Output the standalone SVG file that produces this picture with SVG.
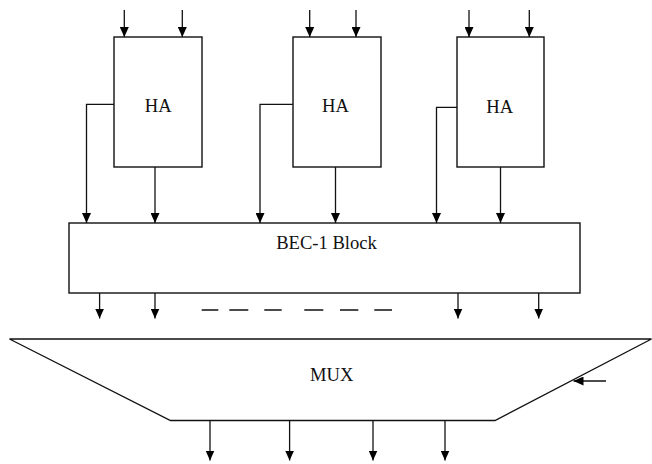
<svg xmlns="http://www.w3.org/2000/svg" width="652" height="464" viewBox="0 0 652 464">
<defs>
<marker id="ah" markerUnits="userSpaceOnUse" markerWidth="10" markerHeight="9" refX="10" refY="4.5" orient="auto">
<path d="M0,0 L10,4.5 L0,9 z" fill="#000"/>
</marker>
<style>
.box{fill:#fff;stroke:#111;stroke-width:1.4}
.w{fill:none;stroke:#111;stroke-width:1.3}
.a{fill:none;stroke:#111;stroke-width:1.3;marker-end:url(#ah)}
.d{fill:none;stroke:#333;stroke-width:1.4;stroke-dasharray:17 11}
.t{font-family:"Liberation Serif","Times New Roman",serif;font-size:18.6px;fill:#111;text-anchor:middle}
</style>
</defs>
<rect width="652" height="464" fill="#fff"/>
<g id="ha1">
<rect class="box" x="114" y="37" width="88" height="130"/>
<text class="t" x="158.3" y="112">HA</text>
</g>
<g id="ha2">
<rect class="box" x="293" y="37" width="88" height="130"/>
<text class="t" x="335.5" y="112">HA</text>
</g>
<g id="ha3">
<rect class="box" x="457" y="37" width="87" height="130"/>
<text class="t" x="499.7" y="113">HA</text>
</g>
<g id="bec">
<rect class="box" x="69" y="223" width="511" height="70"/>
<text class="t" x="326.5" y="249">BEC-1 Block</text>
</g>
<g id="mux">
<path class="box" d="M9.5,339 L651.5,339 L495,420.5 L170.5,420.5 Z"/>
<text class="t" x="331.7" y="380.7">MUX</text>
</g>
<g id="connectors">
<line class="a" x1="124.3" y1="10" x2="124.3" y2="37"/>
<line class="a" x1="182.3" y1="10" x2="182.3" y2="37"/>
<line class="a" x1="309.7" y1="10" x2="309.7" y2="37"/>
<line class="a" x1="356" y1="10" x2="356" y2="37"/>
<line class="a" x1="469" y1="10" x2="469" y2="37"/>
<line class="a" x1="529.3" y1="10" x2="529.3" y2="37"/>
<path class="a" d="M114,104.3 H86.5 V223"/>
<line class="a" x1="155" y1="167" x2="155" y2="223"/>
<path class="a" d="M293,104.3 H260 V223"/>
<line class="a" x1="335.5" y1="167" x2="335.5" y2="223"/>
<path class="a" d="M457,107.3 H436.5 V223"/>
<line class="a" x1="500.5" y1="167" x2="500.5" y2="223"/>
<line class="a" x1="99.6" y1="293" x2="99.6" y2="318.5"/>
<line class="a" x1="155" y1="293" x2="155" y2="318.5"/>
<line class="a" x1="458" y1="293" x2="458" y2="318.5"/>
<line class="a" x1="538.7" y1="293" x2="538.7" y2="318.5"/>
<path class="w" d="M201.7,310 H218.3 M229.3,310 H248.3 M264.3,310 H281.7 M304.3,310 H323.3 M340,310 H358.3 M374.3,310 H392" stroke="#333" stroke-width="1.4"/>
<line class="a" x1="606" y1="381" x2="573.5" y2="381"/>
<line class="a" x1="210" y1="420.5" x2="210" y2="460.5"/>
<line class="a" x1="289.6" y1="420.5" x2="289.6" y2="460.5"/>
<line class="a" x1="373" y1="420.5" x2="373" y2="460.5"/>
<line class="a" x1="445" y1="420.5" x2="445" y2="460.5"/>
</g>
</svg>
